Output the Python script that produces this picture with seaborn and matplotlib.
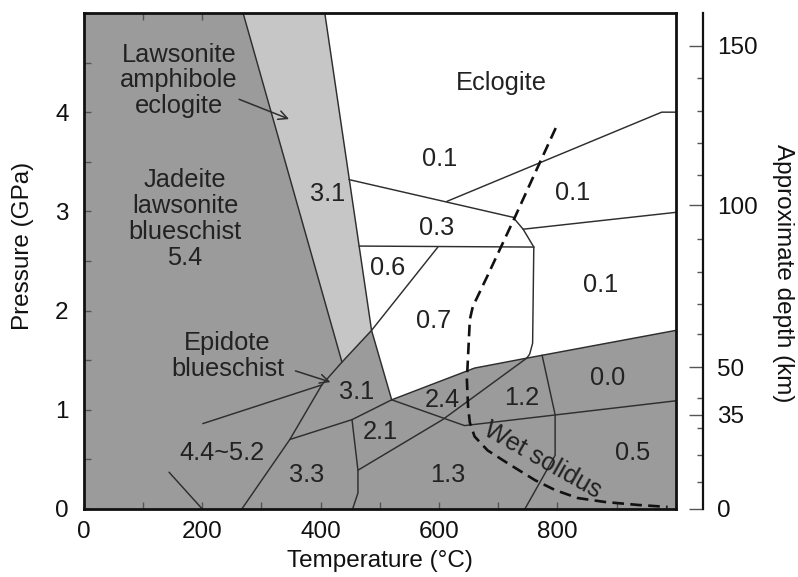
import matplotlib
matplotlib.use("Agg")
import matplotlib.pyplot as plt
import pandas as pd
import seaborn as sns

sns.set_theme(style="ticks")
plt.rcParams['font.family'] = ['Liberation Sans', 'DejaVu Sans']

# ---------------- data (temperature °C, pressure GPa) ----------------
light_T = [269, 407, 486, 436]
light_P = [5.0, 5.0, 1.80, 1.48]

white_T = [407, 486, 520, 660, 748, 1000, 1000]
white_P = [5.0, 1.80, 1.10, 1.42, 1.52, 1.80, 5.0]

boundaries = {
    "line1": ([269, 436], [5.0, 1.48]),
    "line2": ([407, 486, 520], [5.0, 1.80, 1.10]),
    "epidote": ([598, 486, 436, 402, 348, 267], [2.64, 1.80, 1.48, 1.25, 0.70, 0.0]),
    "upper31": ([448, 725], [3.32, 2.94]),
    "eclogite": ([613, 976, 1000], [3.10, 4.0, 4.0]),
    "kink": ([725, 742, 760], [2.94, 2.82, 2.64]),
    "right01": ([742, 1000], [2.82, 2.99]),
    "horiz": ([465, 760], [2.65, 2.64]),
    "vert07": ([760, 758, 753, 748], [2.64, 1.67, 1.56, 1.52]),
    "darktop": ([520, 660, 748, 1000], [1.10, 1.42, 1.52, 1.80]),
    "lower24": ([520, 643, 1000], [1.10, 0.84, 1.09]),
    "diag12": ([748, 606, 463], [1.52, 0.90, 0.39]),
    "b31_21": ([348, 453, 520], [0.70, 0.90, 1.10]),
    "vleft": ([453, 463, 463, 454], [0.90, 0.39, 0.16, 0.0]),
    "vright": ([774, 796, 796, 745], [1.55, 0.95, 0.54, 0.0]),
    "long": ([201, 402], [0.86, 1.25]),
    "short": ([144, 200], [0.37, 0.0]),
}

solidus_T = [797, 757, 728, 681, 657, 652, 647, 649, 652, 660, 682, 716, 762,
             796, 834, 880, 936, 986]
solidus_P = [3.84, 3.32, 2.94, 2.34, 2.04, 1.91, 1.30, 1.03, 0.87, 0.73, 0.59,
             0.46, 0.29, 0.19, 0.11, 0.07, 0.04, 0.02]

labels_text = ["Lawsonite\namphibole\neclogite", "Jadeite\nlawsonite\nblueschist\n5.4",
               "3.1", "Eclogite", "0.1", "0.1", "0.3", "0.6", "0.7", "0.1",
               "Epidote\nblueschist", "3.1", "2.4", "1.2", "0.0", "2.1", "4.4~5.2",
               "3.3", "1.3", "0.5"]
labels_T = [161, 171, 412, 706, 601, 826, 596, 513, 590, 873, 243, 461, 605, 740,
            885, 500, 233, 376, 615, 927]
labels_P = [4.32, 2.92, 3.18, 4.29, 3.53, 3.19, 2.83, 2.43, 1.89, 2.26, 1.54, 1.18,
            1.10, 1.12, 1.32, 0.78, 0.56, 0.34, 0.34, 0.56]

arrows = [((258, 4.14), (351, 3.92)), ((353, 1.40), (421, 1.27))]

x_ticks = [0, 100, 200, 300, 400, 500, 600, 700, 800, 900, 1000]
x_ticklabels = ["0", "", "200", "", "400", "", "600", "", "800", "", ""]
y_ticks = [0, 0.5, 1, 1.5, 2, 2.5, 3, 3.5, 4, 4.5, 5]
y_ticklabels = ["0", "", "1", "", "2", "", "3", "", "4", "", ""]

depth_labels = ["0", "35", "50", "100", "150"]
depth_major_P = [0.0, 0.95, 1.43, 3.06, 4.67]
depth_minor_P = [0.27, 0.54, 0.82, 1.12, 1.76, 2.07, 2.39, 2.72, 3.37, 3.69, 4.01, 4.34]

DARK = "#9b9b9b"
LIGHT = "#c6c6c6"
LINE = "#2e2e2e"
TXT = "#222222"
FS = 17.5
FS_IN = 18.3

# ---------------- figure ----------------
fig = plt.figure(figsize=(7.98, 5.77), dpi=100)
ax = fig.add_axes([0.105, 0.118, 0.742, 0.8595])
ax.set_facecolor(DARK)
ax.fill(light_T, light_P, color=LIGHT, lw=0, zorder=1)
ax.fill(white_T, white_P, color="white", lw=0, zorder=1)

rows = []
for name, (ts, ps) in boundaries.items():
    for i, (t, p) in enumerate(zip(ts, ps)):
        rows.append({"seg": name, "order": i, "T": t, "P": p})
bdf = pd.DataFrame(rows)
sns.lineplot(data=bdf, x="T", y="P", units="seg", estimator=None, sort=False,
             color=LINE, lw=1.05, ax=ax, legend=False, zorder=2)

sol = pd.DataFrame({"T": solidus_T, "P": solidus_P})
sns.lineplot(data=sol, x="T", y="P", estimator=None, sort=False, color="#111111",
             lw=1.9, linestyle=(0, (4.4, 2.4)), ax=ax, legend=False, zorder=3)

for txt, t, p in zip(labels_text, labels_T, labels_P):
    ax.text(t, p, txt, ha="center", va="center", fontsize=FS_IN, color=TXT,
            linespacing=1.1, zorder=4)
ax.text(775, 0.49, "Wet solidus", ha="center", va="center", fontsize=FS_IN,
        color=TXT, rotation=-29.5, rotation_mode="anchor", zorder=4)

for (start, end) in arrows:
    ax.annotate("", xy=end, xytext=start,
                arrowprops=dict(arrowstyle="->", color=LINE, lw=1.1,
                                mutation_scale=16), zorder=4)

ax.set_xlim(0, 1000)
ax.set_ylim(0, 5)
ax.set_xticks(x_ticks, labels=x_ticklabels)
ax.set_yticks(y_ticks, labels=y_ticklabels)
ax.tick_params(direction="in", length=5, width=1, top=True, right=True,
               labelsize=FS, colors="#555555", labelcolor="#111111")
ax.tick_params(axis="x", pad=9)
ax.tick_params(axis="y", pad=11)
for s in ax.spines.values():
    s.set_color("#111111")
    s.set_linewidth(2)
    s.set_zorder(5)

ax.set_xlabel("Temperature (°C)", fontsize=FS, color="#111111")
ax.xaxis.set_label_coords(0.50, -0.082)
ax.set_ylabel("Pressure (GPa)", fontsize=FS, color="#111111")
ax.yaxis.set_label_coords(-0.084, 0.53)

ax2 = ax.twinx()
ax2.set_ylim(0, 5)
for s in ["top", "left", "bottom"]:
    ax2.spines[s].set_visible(False)
ax2.spines["right"].set_position(("outward", 19.5))
ax2.spines["right"].set_linewidth(1.6)
ax2.spines["right"].set_color("#111111")
ax2.set_yticks(depth_major_P, labels=depth_labels)
ax2.set_yticks(depth_minor_P, minor=True)
ax2.tick_params(axis="y", which="major", direction="in", length=10, width=1,
                pad=10, labelsize=FS, colors="#555555", labelcolor="#111111")
ax2.tick_params(axis="y", which="minor", direction="in", length=4, width=1,
                colors="#555555")
ax2.set_ylabel("Approximate depth (km)", fontsize=FS, color="#111111",
               rotation=270, va="center")
ax2.yaxis.set_label_coords(1.181, 0.476)

fig.savefig("out.png", dpi=100)
